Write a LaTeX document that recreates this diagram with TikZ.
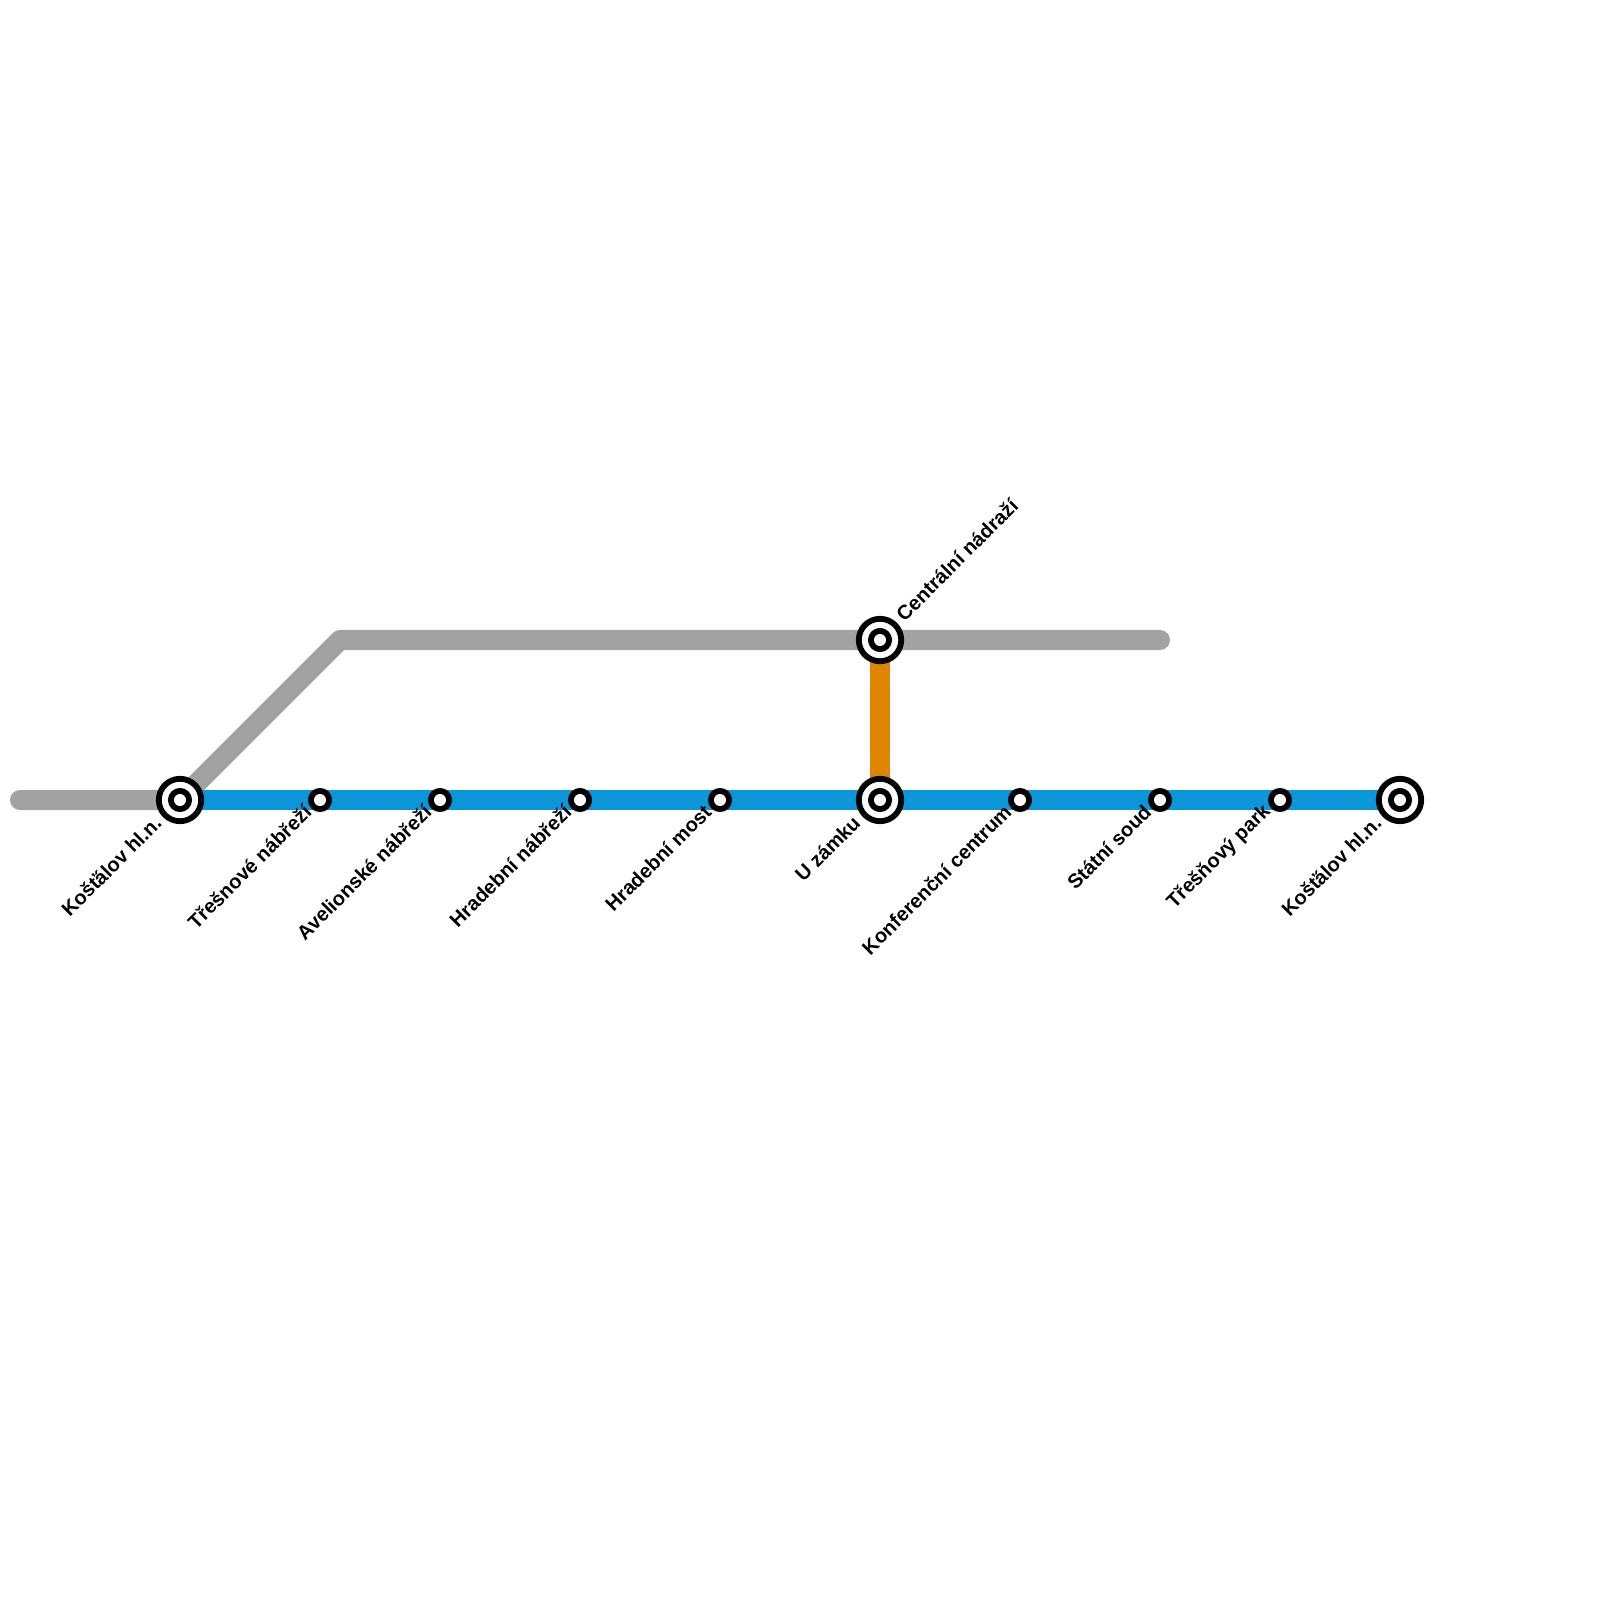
\documentclass[tikz,border=0pt]{standalone}
\usepackage{fontspec}
\setmainfont{Liberation Sans}
\usetikzlibrary{backgrounds}
\definecolor{linegray}{HTML}{A2A2A2}
\definecolor{lineblue}{HTML}{0A96D8}
\definecolor{lineorange}{HTML}{DE8500}
\tikzset{
  track/.style={line width=0.2cm,line cap=round,line join=round},
  stop/.style={circle,draw=black,fill=white,line width=0.058cm,minimum size=0.182cm,inner sep=0pt},
  bigstop/.style={stop,minimum size=0.424cm},
  namesw/.style={font=\bfseries\fontsize{5.69pt}{6pt}\selectfont,rotate=45,anchor=east,inner sep=0pt},
  namene/.style={font=\bfseries\fontsize{5.69pt}{6pt}\selectfont,rotate=45,anchor=west,inner sep=0pt},
}
\begin{document}
\begin{tikzpicture}[x=0.01cm,y=-0.01cm]
\useasboundingbox (0,0) rectangle (1600,1600);
% stations
\node[bigstop] (kostalovA) at (180,800) {}; \node[stop] (kostalovAin) at (kostalovA) {};
\node[stop] (tresnove) at (320,800) {};
\node[stop] (avelionske) at (440,800) {};
\node[stop] (hradebninab) at (580,800) {};
\node[stop] (hradebnimost) at (720,800) {};
\node[bigstop] (uzamku) at (880,800) {}; \node[stop] (uzamkuin) at (uzamku) {};
\node[stop] (konferencni) at (1020,800) {};
\node[stop] (statni) at (1160,800) {};
\node[stop] (tresnovy) at (1280,800) {};
\node[bigstop] (kostalovB) at (1400,800) {}; \node[stop] (kostalovBin) at (kostalovB) {};
\node[bigstop] (centralni) at (880,640) {}; \node[stop] (centralniin) at (centralni) {};
% free ends of the gray line
\coordinate (grayW) at (20,800);
\coordinate (grayBend) at (340,640);
\coordinate (grayE) at (1160,640);
% lines
\begin{scope}[on background layer]
\draw[track,linegray] (grayW)--(kostalovA.center)--(grayBend)--(centralni.center)--(grayE);
\draw[track,lineorange,line cap=butt] (centralni.center)--(uzamku.center);
\draw[track,lineblue,line cap=butt] (kostalovA.center)--(tresnove.center)--(avelionske.center)--(hradebninab.center)--(hradebnimost.center)--(uzamku.center)--(konferencni.center)--(statni.center)--(tresnovy.center)--(kostalovB.center);
\end{scope}
% names
\node[namesw] (kostalovAname) at (158,819) {Košť\kern-0.8ptálov hl.n.};
\node[namesw] (tresnovename) at (308,808) {Třešnové nábřeží};
\node[namesw] (avelionskename) at (428,808) {Avelionské nábřeží};
\node[namesw] (hradebninabname) at (568,808) {Hradební nábřeží};
\node[namesw] (hradebnimostname) at (708,808) {Hradební most};
\node[namesw] (uzamkuname) at (857,819) {U zámku};
\node[namesw] (konferencniname) at (1008,808) {Konferenční centrum};
\node[namesw] (statniname) at (1148,808) {Státní soud};
\node[namesw] (tresnovyname) at (1268,808) {Třešňový park};
\node[namesw] (kostalovBname) at (1378,819) {Košť\kern-0.8ptálov hl.n.};
\node[namene] (centralniname) at (899,617.5) {Centrální nádraží};
\end{tikzpicture}
\end{document}
